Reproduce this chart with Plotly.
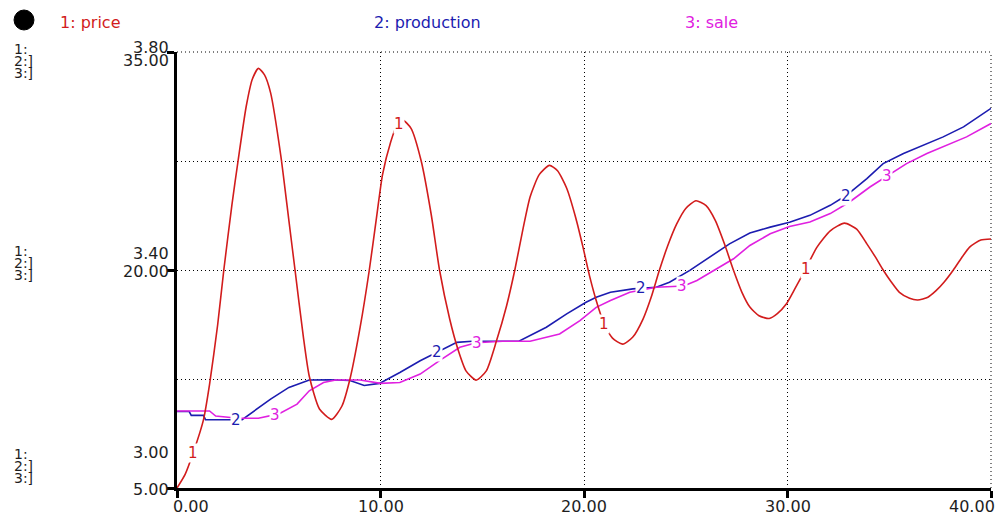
import numpy as np
import plotly.graph_objects as go

# ---------------- data ----------------
t_price = [0, 0.4, 0.8, 1.3, 1.6, 2.0, 2.3, 2.7, 3.0, 3.4, 3.7, 4.0, 4.3, 4.6,
           5.1, 5.5, 5.8, 6.2, 6.5, 7.0, 7.6, 8.1, 8.5, 9.0, 9.45, 9.8, 10.1,
           10.5, 10.8, 11.1, 11.5, 12.0, 12.5, 12.9, 13.4, 13.8, 14.2, 14.7,
           15.2, 15.7, 16.2, 16.6, 17.0, 17.35, 17.8, 18.3, 18.7, 19.15, 19.6,
           19.95, 20.3, 20.6, 20.95, 21.4, 21.9, 22.4, 22.9, 23.3, 23.7, 24.1,
           24.55, 25.0, 25.5, 26.0, 26.45, 26.9, 27.35, 27.75, 28.15, 28.6,
           29.1, 29.5, 29.95, 30.4, 30.85, 31.45, 32.1, 32.8, 33.4, 33.9, 34.3,
           34.7, 35.1, 35.5, 36.0, 36.4, 36.9, 37.3, 37.7, 38.15, 38.55, 38.95,
           39.5, 40]
price = [3.000, 3.025, 3.065, 3.125, 3.19, 3.30, 3.40, 3.52, 3.60, 3.70, 3.750,
         3.770, 3.758, 3.725, 3.610, 3.490, 3.40, 3.28, 3.205, 3.145, 3.126,
         3.150, 3.200, 3.295, 3.40, 3.495, 3.575, 3.635, 3.665, 3.675, 3.660,
         3.600, 3.500, 3.40, 3.31, 3.255, 3.215, 3.198, 3.215, 3.27, 3.335,
         3.40, 3.475, 3.534, 3.575, 3.592, 3.582, 3.550, 3.495, 3.442, 3.385,
         3.344, 3.305, 3.275, 3.264, 3.277, 3.310, 3.350, 3.399, 3.443, 3.484,
         3.513, 3.527, 3.518, 3.491, 3.448, 3.399, 3.360, 3.332, 3.316, 3.311,
         3.320, 3.338, 3.368, 3.399, 3.442, 3.472, 3.486, 3.475, 3.448, 3.425,
         3.40, 3.378, 3.359, 3.348, 3.345, 3.350, 3.362, 3.378, 3.40, 3.422,
         3.442, 3.455, 3.457]

t_prod = [0, 0.6, 0.7, 1.3, 1.4, 3.2, 4.6, 5.5, 6.5, 7.5, 8.5, 9.2, 9.95,
          10.95, 11.95, 12.75, 13.75, 14.5, 15.5, 16.8, 18.15, 19.15, 20.1,
          20.6, 21.3, 22.4, 23.55, 24.2, 25.2, 26.2, 27.15, 28.15, 29.15,
          30.1, 31.1, 32.1, 32.9, 33.9, 34.7, 35.7, 36.7, 37.65, 38.65, 40]
production = [10.26, 10.26, 10.0, 10.0, 9.7, 9.7, 11.12, 11.92, 12.43, 12.45,
              12.4, 12.05, 12.2, 12.95, 13.76, 14.33, 15.02, 15.1, 15.1, 15.1,
              16.06, 16.98, 17.78, 18.12, 18.47, 18.70, 18.81, 19.16, 19.97,
              20.88, 21.80, 22.54, 22.95, 23.28, 23.76, 24.45, 25.14, 26.29,
              27.32, 28.01, 28.59, 29.16, 29.85, 31.12]

t_sale = [0, 1.6, 1.9, 3.0, 4.0, 5.0, 5.9, 6.5, 7.2, 7.8, 9.0, 10.0, 10.95,
          11.95, 12.9, 13.9, 14.7, 16.0, 17.35, 18.8, 19.8, 20.6, 21.3, 22.25,
          23.55, 24.9, 25.55, 26.5, 27.35, 28.15, 29.15, 30.1, 31.1, 32.1,
          33.05, 34.05, 34.85, 35.85, 36.85, 37.8, 38.8, 40]
sale = [10.3, 10.3, 9.95, 9.8, 9.8, 10.1, 10.77, 11.69, 12.26, 12.43, 12.43,
        12.2, 12.26, 12.84, 13.76, 14.68, 15.0, 15.1, 15.1, 15.6, 16.52, 17.43,
        17.9, 18.47, 18.81, 18.9, 19.28, 20.08, 20.77, 21.69, 22.49, 23.0,
        23.3, 23.88, 24.68, 25.71, 26.40, 27.32, 28.01, 28.59, 29.16, 30.08]

x_ticks = [0, 10, 20, 30, 40]
x_tick_text = ["0.00", "10.00", "20.00", "30.00", "40.00"]
price_scale = [3.00, 3.40, 3.80]
qty_scale = [5.00, 20.00, 35.00]

# where the series numbers are written along the curves
label_t_price = [0.8, 10.9, 21.0, 30.9]
label_t_prod = [2.9, 12.78, 22.8, 32.87]
label_t_sale = [4.8, 14.74, 24.8, 34.9]

RED = "#d21c1c"
BLUE = "#1c1cb0"
MAG = "#e020e0"
TXT = "#1e1e1e"
FONT = "DejaVu Sans"

fig = go.Figure()
fig.add_trace(go.Scatter(x=t_price, y=price, yaxis="y2", mode="lines",
                         line=dict(color=RED, width=1.6, shape="spline", smoothing=0.6),
                         name="price"))
fig.add_trace(go.Scatter(x=t_prod, y=production, mode="lines",
                         line=dict(color=BLUE, width=1.6), name="production"))
fig.add_trace(go.Scatter(x=t_sale, y=sale, mode="lines",
                         line=dict(color=MAG, width=1.6), name="sale"))

ann = []
# numbers on curves (white box breaks the line like the original)
for tl in label_t_price:
    ann.append(dict(x=tl, y=float(np.interp(tl, t_price, price)), xref="x", yref="y2",
                    text="1", showarrow=False, font=dict(family=FONT, size=15, color=RED),
                    bgcolor="white", borderpad=0))
for tl in label_t_prod:
    ann.append(dict(x=tl, y=float(np.interp(tl, t_prod, production)), xref="x", yref="y",
                    text="2", showarrow=False, font=dict(family=FONT, size=15, color=BLUE),
                    bgcolor="white", borderpad=0))
for tl in label_t_sale:
    ann.append(dict(x=tl, y=float(np.interp(tl, t_sale, sale)), xref="x", yref="y",
                    text="3", showarrow=False, font=dict(family=FONT, size=15, color=MAG),
                    bgcolor="white", borderpad=0))

# x tick labels
for v, txt in zip(x_ticks, x_tick_text):
    anchor = "left" if v == x_ticks[0] else ("right" if v == x_ticks[-1] else "center")
    shift = -6 if v == x_ticks[0] else (6 if v == x_ticks[-1] else 0)
    ann.append(dict(x=v, y=0, xref="x", yref="paper", yanchor="top", yshift=-7,
                    xanchor=anchor, xshift=shift, text=txt, showarrow=False,
                    font=dict(family=FONT, size=16, color=TXT)))

# left scale labels: price value above, quantity value below
price_shift = [36, 17, 5]
qty_shift = [-1, -1, -8]
for pv, qv, ps, qs in zip(price_scale, qty_scale, price_shift, qty_shift):
    ann.append(dict(x=0, y=qv, xref="paper", yref="y", xanchor="right", xshift=-6,
                    yshift=ps, text=f"{pv:.2f}", showarrow=False,
                    font=dict(family=FONT, size=16, color=TXT)))
    ann.append(dict(x=0, y=qv, xref="paper", yref="y", xanchor="right", xshift=-6,
                    yshift=qs, text=f"{qv:.2f}", showarrow=False,
                    font=dict(family=FONT, size=16, color=TXT)))

# left series keys "1: 2:] 3:]"
key_base = [34, 19, 3]
for qv, b in zip(qty_scale, key_base):
    for i, k in enumerate(["1:", "2:]", "3:]"]):
        ann.append(dict(x=0, y=qv, xref="paper", yref="y", xanchor="left", xshift=-165,
                        yshift=b - 12 * i, text=k, showarrow=False,
                        font=dict(family=FONT, size=14, color=TXT)))

# header legend
for txt, col, xs in [("1: price", RED, -119), ("2: production", BLUE, 195), ("3: sale", MAG, 506)]:
    ann.append(dict(x=0, y=1, xref="paper", yref="paper", xanchor="left", yanchor="middle",
                    xshift=xs, yshift=30, text=txt, showarrow=False,
                    font=dict(family=FONT, size=16, color=col)))

grid_dash = "1px,3px"
edge = dict(color="black", width=1, dash=grid_dash)
# the page body has an 8px margin, so the figure is sized/offset to compensate
fig.update_layout(
    width=989, height=509,
    margin=dict(l=169, r=6, t=44, b=29),
    paper_bgcolor="white", plot_bgcolor="white",
    showlegend=False,
    annotations=ann,
    xaxis=dict(range=[0, 40], tickvals=x_ticks, showticklabels=False,
               showgrid=True, gridcolor="black", gridwidth=1, griddash=grid_dash,
               showline=True, linecolor="black", linewidth=3,
               ticks="outside", ticklen=7, tickwidth=3, tickcolor="black",
               zeroline=False, fixedrange=True),
    yaxis=dict(range=[5, 35], tickvals=qty_scale, showticklabels=False,
               showgrid=True, gridcolor="black", gridwidth=1, griddash=grid_dash,
               minor=dict(tickvals=[12.5, 27.5], showgrid=True, gridcolor="black",
                          gridwidth=1, griddash=grid_dash, ticks=""),
               showline=True, linecolor="black", linewidth=3,
               ticks="outside", ticklen=7, tickwidth=3, tickcolor="black",
               zeroline=False, fixedrange=True),
    yaxis2=dict(range=[3.0, 3.8], overlaying="y", side="left", visible=False,
                fixedrange=True),
    shapes=[
        dict(type="circle", xref="paper", yref="paper",
             x0=-0.2002, x1=-0.1757, y0=1.0505, y1=1.0963,
             fillcolor="black", line=dict(color="black", width=1)),
        # dotted frame edges (top and right grid lines)
        dict(type="line", xref="paper", yref="paper", x0=0, x1=1, y0=1, y1=1,
             line=edge, layer="below"),
        dict(type="line", xref="paper", yref="paper", x0=1, x1=1, y0=0, y1=1,
             line=edge, layer="below"),
    ],
)

fig.write_html("out.html")
